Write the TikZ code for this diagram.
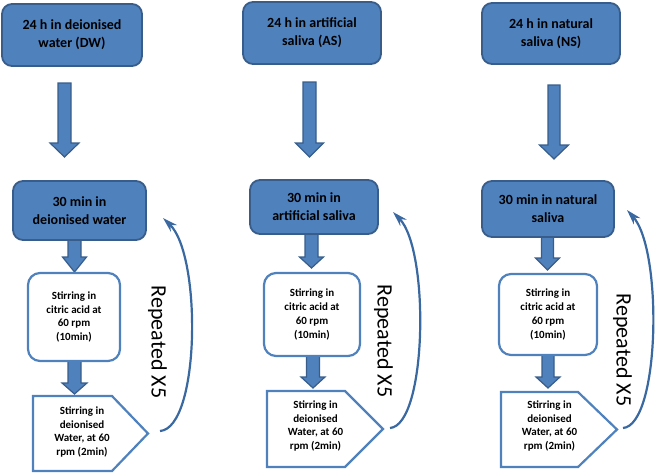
\documentclass[tikz,border=0pt]{standalone}
\usepackage{fontspec}
\setmainfont{Carlito}
\usetikzlibrary{arrows.meta}
\definecolor{bfill}{HTML}{4F81BD}
\definecolor{bline}{HTML}{385D8A}
\definecolor{cline}{HTML}{3A68A0}
\newcommand{\blockarr}[6]{%
  \path[blk] ({#1-#4/2},#2) -- ({#1+#4/2},#2) -- ({#1+#4/2},#6) -- ({#1+#5/2},#6) -- (#1,#3) -- ({#1-#5/2},#6) -- ({#1-#4/2},#6) -- cycle;}
\tikzset{
  bluebox/.style={draw=bline, line width=1.8pt, fill=bfill, rounded corners=10pt,
    font=\bfseries\fontsize{14}{18}\selectfont, align=center, text=black, inner sep=0pt},
  whitebox/.style={draw=bfill, line width=2.2pt, fill=white, rounded corners=12pt,
    font=\bfseries\fontsize{11}{13.7}\selectfont, align=center, text=black, inner sep=0pt},
  pent/.style={draw=bfill, line width=2.2pt, fill=white, line join=miter},
  penttext/.style={font=\bfseries\fontsize{11}{13.7}\selectfont, align=center, text=black, inner sep=0pt},
  blk/.style={draw=bline, line width=1.2pt, fill=bfill, line join=miter},
  loopline/.style={draw=cline, line width=2.2pt, -{Stealth[length=15pt,width=9pt]}},
  reptext/.style={font=\fontsize{22}{26}\selectfont, rotate=-90, text=black, inner sep=0pt},
}
\begin{document}
\begin{tikzpicture}[x=1pt,y=-1pt]
\useasboundingbox (0,0) rectangle (660,474);

% ---------- column 1 ----------
\blockarr{64.5}{83}{157}{13}{29}{143}
\blockarr{74.5}{240}{272}{13}{24}{257}
\blockarr{74.5}{361}{394}{13}{25}{383}
\node[bluebox, minimum width=140pt, minimum height=62pt] (t1) at (72,35) {24 h in deionised\\water (DW)};
\node[bluebox, minimum width=133pt, minimum height=59pt] (m1) at (79.5,210.5) {30 min in\\deionised water};
\node[whitebox, minimum width=92pt, minimum height=88pt] (c1) at (74,317) {Stirring in\\citric acid at\\60 rpm\\(10min)};
\path[pent] (33,396) -- (112,396) -- (148,433.5) -- (112,471) -- (33,471) -- cycle;
\node[penttext] (p1) at (82,432) {Stirring in\\deionised\\Water, at 60\\rpm (2min)};
\coordinate (s1) at (160,431);
\coordinate (e1) at (163,218);
\draw[loopline] (s1) .. controls (200,428) and (202,255) .. (e1);
\node[reptext] (r1) at (157.5,342) {Repeated X5};

% ---------- column 2 ----------
\blockarr{309.5}{82}{157}{13}{28}{143}
\blockarr{311.5}{234}{268}{13}{24}{257}
\blockarr{313}{356}{388}{13}{24}{377}
\node[bluebox, minimum width=138pt, minimum height=62pt] (t2) at (312,33) {24 h in artificial\\saliva (AS)};
\node[bluebox, minimum width=128pt, minimum height=54pt] (m2) at (314,207) {30 min in\\artificial saliva};
\node[whitebox, minimum width=96pt, minimum height=83pt] (c2) at (312,314.5) {Stirring in\\citric acid at\\60 rpm\\(10min)};
\path[pent] (267,391) -- (345,391) -- (383,429) -- (345,467) -- (267,467) -- cycle;
\node[penttext] (p2) at (315.5,426) {Stirring in\\deionised\\Water, at 60\\rpm (2min)};
\coordinate (s2) at (390,428);
\coordinate (e2) at (393,212);
\draw[loopline] (s2) .. controls (427,425) and (430,250) .. (e2);
\node[reptext] (r2) at (383.5,341) {Repeated X5};

% ---------- column 3 ----------
\blockarr{554}{85}{159}{12}{29}{145}
\blockarr{547.5}{237}{270}{12}{24}{258}
\blockarr{548}{355}{388}{12}{24}{377}
\node[bluebox, minimum width=138pt, minimum height=61pt] (t3) at (551,33.5) {24 h in natural\\saliva (NS)};
\node[bluebox, minimum width=132pt, minimum height=56pt] (m3) at (548,209) {30 min in natural\\saliva};
\node[whitebox, minimum width=98pt, minimum height=81pt] (c3) at (548,314.5) {Stirring in\\citric acid at\\60 rpm\\(10min)};
\path[pent] (501,392) -- (578,392) -- (617,429.5) -- (578,467) -- (501,467) -- cycle;
\node[penttext] (p3) at (549.5,426) {Stirring in\\deionised\\Water, at 60\\rpm (2min)};
\coordinate (s3) at (623,428);
\coordinate (e3) at (627,210);
\draw[loopline] (s3) .. controls (660,425) and (663,250) .. (e3);
\node[reptext] (r3) at (622.5,350) {Repeated X5};
\end{tikzpicture}
\end{document}
